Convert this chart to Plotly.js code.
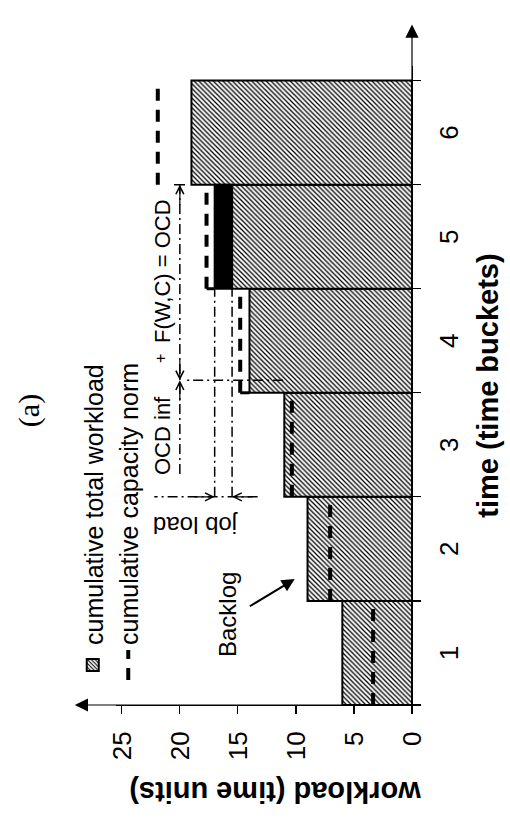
<!DOCTYPE html>
<html><head><meta charset="utf-8">
<script src="https://cdn.plot.ly/plotly-3.0.1.min.js"></script>
<style>
html,body{margin:0;padding:0;width:510px;height:821px;overflow:hidden;background:#fff;}
#chart{position:absolute;left:0;top:0;width:821px;height:510px;transform-origin:0 0;}
</style></head><body><div id="chart"></div>
<script>
// ---- data ----
const buckets = [1, 2, 3, 4, 5, 6];
const bucketLabels = ['1', '2', '3', '4', '5', '6'];
const totalWorkload = [6, 9, 11, 14, 15.5, 19];          // cumulative total workload (hatched)
const jobLoad = [null, null, null, null, 1.5, null];      // newly added job (black)
const capacityNorm = [3.35, 7.05, 10.35, 14.8, 17.7, 21.9];
const workloadTicks = [0, 5, 10, 15, 20, 25];

// ---- annotation geometry (time / workload units) ----
const dimT = 2.5, dimLow = 13.3, dimHigh = 22.2;
const ocdLevel = 20, ocdStart = 2.72, ocdSplit = 3.62, ocdEnd = 5.5;
const splitLow = 11.1, splitHigh = 19.6;

const jobIdx = jobLoad.findIndex(v => v !== null);
const jobLower = totalWorkload[jobIdx];
const jobUpper = jobLower + jobLoad[jobIdx];

function segTrace(segs, line) {
  const x = [], y = [];
  segs.forEach(s => { x.push(s[0], s[2], null); y.push(s[1], s[3], null); });
  return {type: 'scatter', mode: 'lines', x: x, y: y, line: line, showlegend: false, hoverinfo: 'skip'};
}

// capacity norm: one dashed step per bucket
const capX = [], capY = [];
buckets.forEach((b, i) => { capX.push(b - 0.5, b + 0.5, null); capY.push(capacityNorm[i], capacityNorm[i], null); });

// solid step corners where the norm lies above the bar
const corner = [];
buckets.forEach((b, i) => {
  if (i < buckets.length - 1) {
    const top = totalWorkload[i] + (jobLoad[i] || 0);
    if (capacityNorm[i] > top) corner.push([b - 0.5, top, b - 0.5, capacityNorm[i]]);
  }
});

const dashDot = {color: '#000', width: 1.5, dash: '10px,4px,2px,4px'};

const traces = [
  {type: 'bar', name: 'cumulative total workload', x: buckets, y: totalWorkload, width: 1,
   marker: {color: '#fff', pattern: {shape: '/', fgcolor: '#000', bgcolor: '#fff', size: 3.4, solidity: 0.38},
            line: {color: '#000', width: 2}}, hoverinfo: 'skip'},
  {type: 'bar', name: 'job load', x: buckets, y: jobLoad, base: totalWorkload, width: 1, showlegend: false,
   marker: {color: '#000', line: {color: '#000', width: 2}}, hoverinfo: 'skip'},
  {type: 'scatter', mode: 'lines', name: 'cumulative capacity norm', x: capX, y: capY,
   line: {color: '#000', width: 4, dash: '12px,9px'}, hoverinfo: 'skip'},
  segTrace(corner, {color: '#000', width: 3}),
  segTrace([
    [dimT, jobLower, buckets[jobIdx] - 0.5, jobLower],
    [dimT, jobUpper, buckets[jobIdx] - 0.5, jobUpper],
    [dimT, dimLow, dimT, dimHigh],
    [ocdStart, ocdLevel, ocdEnd, ocdLevel],
    [ocdSplit, splitLow, ocdSplit, splitHigh]
  ], dashDot),
  segTrace([[ocdEnd, ocdLevel - 0.45, ocdEnd, ocdLevel + 0.5]], {color: '#000', width: 1.5})
];

function head(x, y, ax, ay) {
  return {xref: 'x', yref: 'y', x: x, y: y, axref: 'pixel', ayref: 'pixel', ax: ax, ay: ay,
          text: '', showarrow: true, arrowhead: 5, arrowsize: 1.3, arrowwidth: 1.2, arrowcolor: '#000', standoff: 0};
}
function label(x, y, text, size, angle) {
  return {xref: 'x', yref: 'y', x: x, y: y, text: text, showarrow: false, textangle: angle || 0,
          font: {family: 'Liberation Sans, Arial, sans-serif', size: size, color: '#000'}};
}

const plotW = 821 - 116 - 66.4, plotH = 510 - 116.2 - 98;

const annotations = [
  // axis arrows
  {xref: 'paper', yref: 'paper', x: (796 - 116) / plotW, y: 0, axref: 'pixel', ayref: 'pixel', ax: -680, ay: 0,
   text: '', showarrow: true, arrowhead: 2, arrowsize: 2.2, arrowwidth: 1.2, arrowcolor: '#000', standoff: 0},
  {xref: 'paper', yref: 'paper', x: 0, y: (412 - 75) / plotH, axref: 'pixel', ayref: 'pixel', ax: 0, ay: 337,
   text: '', showarrow: true, arrowhead: 2, arrowsize: 2.2, arrowwidth: 1.2, arrowcolor: '#000', standoff: 0},
  // workload axis title
  {xref: 'paper', yref: 'paper', x: (29 - 116) / plotW, y: (412 - 275) / plotH, text: 'workload (time units)',
   showarrow: false, textangle: -90, xanchor: 'center', yanchor: 'middle',
   font: {family: 'Liberation Sans, Arial, sans-serif', size: 29, weight: 700, color: '#000'}},
  // backlog
  {xref: 'x', yref: 'y', x: 1.71, y: 10.1, axref: 'x', ayref: 'y', ax: 1.44, ay: 14.1, text: '', showarrow: true,
   arrowhead: 2, arrowsize: 1.3, arrowwidth: 2, arrowcolor: '#000', standoff: 0},
  label(1.37, 15.9, 'Backlog', 24),
  // job load dimension
  head(dimT, jobUpper, 0, -22),
  head(dimT, jobLower, 0, 22),
  label(2.22, 18.6, 'job load', 24, -90),
  // OCD dimension
  head(ocdSplit, ocdLevel, -22, 0),
  head(ocdSplit, ocdLevel, 22, 0),
  head(ocdEnd, ocdLevel, -22, 0),
  label(3.09, 21.5, 'OCD inf', 22),
  label(3.83, 21.7, '+', 16),
  label(4.67, 21.5, 'F(W,C) = OCD', 22)
];

const layout = {
  width: 821, height: 510,
  margin: {l: 116, r: 66.4, t: 116.2, b: 98, autoexpand: false},
  paper_bgcolor: '#fff', plot_bgcolor: '#fff',
  font: {family: 'Liberation Sans, Arial, sans-serif', color: '#000'},
  title: {text: '(a)', font: {family: 'Liberation Serif, Times New Roman, serif', size: 30, color: '#000'},
          x: 0.5, xref: 'container', y: 1 - 28 / 510, yref: 'container', yanchor: 'middle', xanchor: 'center'},
  barmode: 'overlay', bargap: 0,
  showlegend: true,
  legend: {xref: 'container', yref: 'container', x: 136 / 821, y: 1 - 70 / 510, xanchor: 'left', yanchor: 'top',
           traceorder: 'normal', bgcolor: 'rgba(0,0,0,0)', borderwidth: 0,
           font: {family: 'Liberation Sans, Arial, sans-serif', size: 25, color: '#000'}},
  xaxis: {range: [0.5, 6.64], tickmode: 'array', tickvals: buckets, ticktext: bucketLabels, ticks: '',
          showline: true, linecolor: '#000', linewidth: 1.2, zeroline: false, showgrid: false,
          tickfont: {size: 26}, ticklabelstandoff: 14, automargin: false,
          minor: {tick0: 0.5, dtick: 1, ticks: 'outside', ticklen: 8, tickwidth: 1.2, tickcolor: '#000', showgrid: false},
          title: {text: 'time (time buckets)', font: {size: 29, weight: 700}, standoff: 14}},
  yaxis: {range: [0, 25.5], tickmode: 'array', tickvals: workloadTicks, ticks: 'outside', ticklen: 8, tickwidth: 1.2,
          tickcolor: '#000', showline: true, linecolor: '#000', linewidth: 1.2, zeroline: false, showgrid: false,
          tickfont: {size: 26}, ticklabelstandoff: 12, automargin: false},
  annotations: annotations
};

Plotly.newPlot('chart', traces, layout, {staticPlot: true, displayModeBar: false}).then(function () {
  // the figure is drawn rotated a quarter turn counter-clockwise
  document.getElementById('chart').style.transform = 'translate(0px,821px) rotate(-90deg)';
});
</script></body></html>
